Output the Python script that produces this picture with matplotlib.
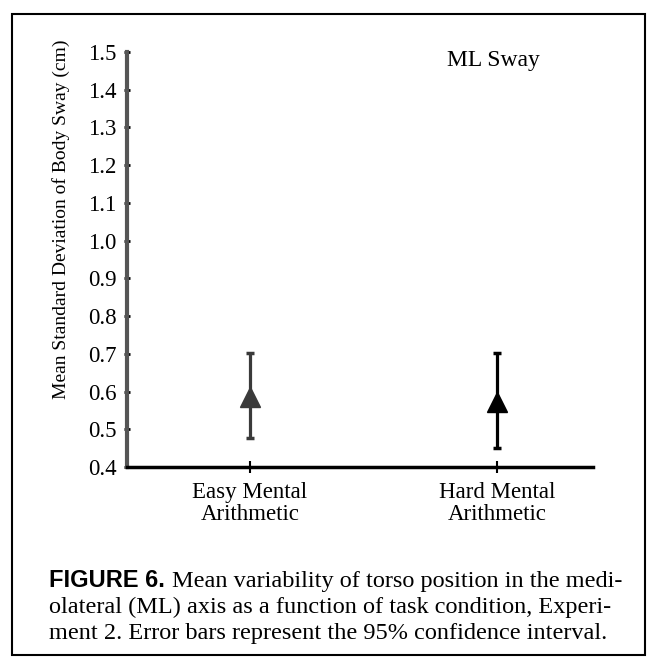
import matplotlib.pyplot as plt
import matplotlib.patches as patches

plt.rcParams['font.family'] = ['Liberation Serif', 'DejaVu Serif']

conditions = ['Easy Mental\nArithmetic', 'Hard Mental\nArithmetic']
means = [0.585, 0.572]
ci_low = [0.477, 0.45]
ci_high = [0.702, 0.702]
colors = ['#3a3a3a', '#000000']
yticks = [0.4, 0.5, 0.6, 0.7, 0.8, 0.9, 1.0, 1.1, 1.2, 1.3, 1.4, 1.5]

fig = plt.figure(figsize=(6.58, 6.65), dpi=100)
ax = fig.add_axes([0.193, 0.2977, 0.708, 0.6241])

for i in range(len(conditions)):
    err = [[means[i] - ci_low[i]], [ci_high[i] - means[i]]]
    ax.errorbar([i], [means[i]], yerr=err, fmt='^', color=colors[i],
                markersize=15, elinewidth=2.3, capsize=3, capthick=2.5)

ax.set_xlim(-0.498, 1.389)
ax.set_ylim(0.4, 1.5)
ax.set_yticks(yticks)
ax.set_yticklabels(['%.1f' % v for v in yticks])
ax.set_xticks(range(len(conditions)))
ax.set_xticklabels(conditions, fontsize=16.5, linespacing=1.05)
ax.tick_params(axis='y', direction='inout', length=5, width=2, labelsize=16.5, pad=5)
ax.tick_params(axis='x', direction='inout', length=8, width=1.5, pad=7)

ax.spines['top'].set_visible(False)
ax.spines['right'].set_visible(False)
ax.spines['left'].set_color('#555555')
ax.spines['left'].set_linewidth(3)
ax.spines['bottom'].set_linewidth(2.5)

ax.set_ylabel('Mean Standard Deviation of Body Sway (cm)', fontsize=14)
ax.yaxis.set_label_coords(-0.122, 0.598)
ax.text(0.686, 0.966, 'ML Sway', transform=ax.transAxes, fontsize=17,
        ha='left', va='baseline')

# caption
x0 = 0.0745
fig.text(x0, 0.1173, 'FIGURE 6.', fontsize=17, fontweight='bold',
         family=['Liberation Sans', 'DejaVu Sans'], ha='left', va='baseline')
fig.text(0.262, 0.1173, 'Mean variability of torso position in the medi-',
         fontsize=17.5, ha='left', va='baseline')
fig.text(x0, 0.0782, 'olateral (ML) axis as a function of task condition, Experi-',
         fontsize=17.5, ha='left', va='baseline')
fig.text(x0, 0.0391, 'ment 2. Error bars represent the 95% confidence interval.',
         fontsize=17.5, ha='left', va='baseline')

# frame
fig.patches.append(patches.Rectangle((0.018, 0.015), 0.963, 0.964,
                                     transform=fig.transFigure, fill=False,
                                     edgecolor='black', linewidth=1.5))

plt.savefig('out.png', dpi=100)
